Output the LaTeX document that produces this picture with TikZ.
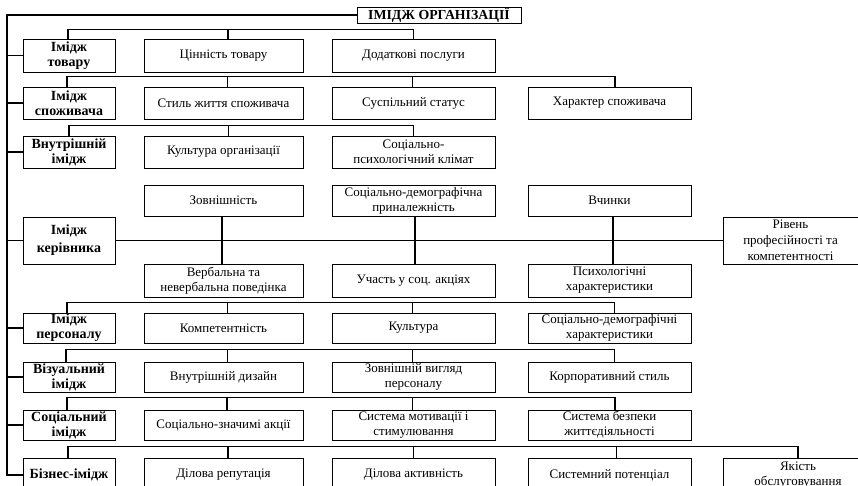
\documentclass[tikz,border=0pt]{standalone}
\usepackage{fontspec}
\setmainfont{Liberation Serif}
\begin{document}
\begin{tikzpicture}[x=1pt,y=-1pt,
  bx/.style={draw, line width=0.7pt, align=center, inner sep=0pt,
    font=\fontsize{13}{15}\selectfont},
  hd/.style={bx, font=\fontsize{14}{15}\selectfont\bfseries, minimum width=92pt},
  wa/.style={minimum width=159pt},
  wb/.style={minimum width=163pt},
  hh/.style={minimum height=#1pt},
  ln/.style={line width=1.1pt}]
\useasboundingbox (0,0) rectangle (858,486);
\clip (0,0) rectangle (858,486);

% title
\node[bx, font=\fontsize{13.8}{14}\selectfont\bfseries, minimum width=164pt, hh=16] (title) at (439,15) {ІМІДЖ ОРГАНІЗАЦІЇ};

% headers
\node[hd, hh=33] (h1) at (69,55.5) {Імідж\\товару};
\node[hd, hh=32] (h2) at (69,103) {Імідж\\споживача};
\node[hd, hh=32] (h3) at (69,152) {Внутрішній\\імідж};
\node[hd, hh=47, font=\fontsize{14}{18}\selectfont\bfseries] (h4) at (69,240.5) {Імідж\\керівника};
\node[hd, hh=30] (h5) at (69,328) {Імідж\\персоналу};
\node[hd, hh=30] (h6) at (69,377) {Візуальний\\імідж};
\node[hd, hh=30] (h7) at (69,425) {Соціальний\\імідж};
\node[hd, hh=34] (h8) at (69,475) {Бізнес-імідж};

% row 1
\node[bx, wa, hh=33] (a1) at (223.5,55.5) {Цінність товару};
\node[bx, wb, hh=33] (a2) at (413.5,55.5) {Додаткові послуги};
% row 2
\node[bx, wa, hh=32] (b1) at (223.5,103) {Стиль життя споживача};
\node[bx, wb, hh=32] (b2) at (413.5,103) {Суспільний статус};
\node[bx, wb, hh=32] (b3) at (609.5,103) {Характер споживача};
% row 3
\node[bx, wa, hh=32] (c1) at (223.5,152) {Культура організації};
\node[bx, wb, hh=32] (c2) at (413.5,152) {Соціально-\\психологічний клімат};
% row 4
\node[bx, wa, hh=31] (u1) at (223.5,200.5) {Зовнішність};
\node[bx, wb, hh=31] (u2) at (413.5,200.5) {Соціально-демографічна\\приналежність};
\node[bx, wb, hh=31] (u3) at (609.5,200.5) {Вчинки};
\node[bx, minimum width=135pt, hh=47, font=\fontsize{13}{16}\selectfont] (rv) at (790.5,240.5) {Рівень\\професійності та\\компетентності};
\node[bx, wa, hh=33] (d1) at (223.5,280.5) {Вербальна та\\невербальна поведінка};
\node[bx, wb, hh=33] (d2) at (413.5,280.5) {Участь у соц. акціях};
\node[bx, wb, hh=33] (d3) at (609.5,280.5) {Психологічні\\характеристики};
% row 5
\node[bx, wa, hh=30] (e1) at (223.5,328) {Компетентність};
\node[bx, wb, hh=30] (e2) at (413.5,328) {Культура};
\node[bx, wb, hh=30] (e3) at (609.5,328) {Соціально-демографічні\\характеристики};
% row 6
\node[bx, wa, hh=30] (f1) at (223.5,377) {Внутрішній дизайн};
\node[bx, wb, hh=30] (f2) at (413.5,377) {Зовнішній вигляд\\персоналу};
\node[bx, wb, hh=30] (f3) at (609.5,377) {Корпоративний стиль};
% row 7
\node[bx, wa, hh=30] (g1) at (223.5,425) {Соціально-значимі акції};
\node[bx, wb, hh=30] (g2) at (413.5,425) {Система мотивації і\\стимулювання};
\node[bx, wb, hh=30] (g3) at (609.5,425) {Система безпеки\\життєдіяльності};
% row 8
\node[bx, wa, hh=34] (k1) at (223.5,475) {Ділова репутація};
\node[bx, wb, hh=34] (k2) at (413.5,475) {Ділова активність};
\node[bx, wb, hh=34] (k3) at (609.5,475) {Системний потенціал};
\node[bx, minimum width=150pt, hh=34] (k4) at (798,475) {Якість\\обслуговування};

% trunk
\coordinate (tk) at (7,0);
\draw[ln] (title.west) -| (tk |- h8.west) -- (h8.west);
\foreach \n in {h1,h2,h3,h4,h5,h6,h7}
  \draw[ln] (tk |- \n.west) -- (\n.west);

% row buses
\draw[ln] ([xshift=-1pt]h1.north) -- ++(0,-9) -| (a2.north);
\draw[ln] ([xshift=4.5pt]a1.north) -- ++(0,-9);

\draw[ln] ([xshift=-2pt]h2.north) -- ++(0,-10) -| ([xshift=5.5pt]b3.north);
\draw[ln] ([xshift=4pt]b1.north) -- ++(0,-10);
\draw[ln] ([xshift=-1pt]b2.north) -- ++(0,-10);

\draw[ln] ([xshift=0pt]h3.north) -- ++(0,-10) -| (c2.north);
\draw[ln] ([xshift=5pt]c1.north) -- ++(0,-10);

\draw[ln] (h4.east) -- (rv.west);
\draw[ln] ([xshift=-1.5pt]u1.south) -- ([xshift=-1.5pt]d1.north);
\draw[ln] ([xshift=1.5pt]u2.south) -- ([xshift=1.5pt]d2.north);
\draw[ln] ([xshift=3.5pt]u3.south) -- ([xshift=3.5pt]d3.north);

\draw[ln] ([xshift=-2pt]h5.north) -- ++(0,-10) -| ([xshift=5pt]e3.north);
\draw[ln] ([xshift=4pt]e1.north) -- ++(0,-10);
\draw[ln] ([xshift=-1pt]e2.north) -- ++(0,-10);

\draw[ln] ([xshift=-3pt]h6.north) -- ++(0,-12) -| ([xshift=5pt]f3.north);
\draw[ln] ([xshift=4pt]f1.north) -- ++(0,-12);
\draw[ln] ([xshift=-1pt]f2.north) -- ++(0,-12);

\draw[ln] ([xshift=-2pt]h7.north) -- ++(0,-12) -| ([xshift=5.5pt]g3.north);
\draw[ln] ([xshift=3.5pt]g1.north) -- ++(0,-12);
\draw[ln] ([xshift=-1pt]g2.north) -- ++(0,-12);

\draw[ln] ([xshift=-1pt]h8.north) -- ++(0,-11) -| (k4.north);
\draw[ln] ([xshift=4.5pt]k1.north) -- ++(0,-11);
\draw[ln] ([xshift=0pt]k2.north) -- ++(0,-11);
\draw[ln] ([xshift=7pt]k3.north) -- ++(0,-11);
\end{tikzpicture}
\end{document}
